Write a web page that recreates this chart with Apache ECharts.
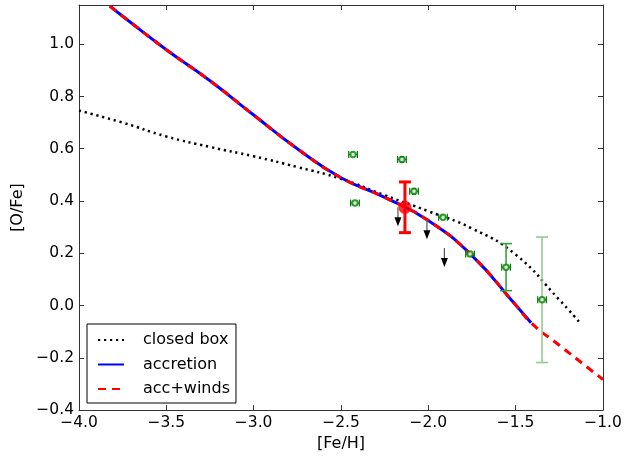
<!DOCTYPE html>
<html><head><meta charset="utf-8">
<script src="https://cdn.jsdelivr.net/npm/echarts@6/dist/echarts.min.js"></script>
<style>html,body{margin:0;padding:0;background:#fff}#c{width:637px;height:457px}</style>
</head><body><div id="c"></div>
<script>
// closed box model
const closedFe  = [-4.0, -3.75, -3.5, -3.25, -3.0, -2.75, -2.5, -2.25, -2.0, -1.75, -1.5, -1.25, -1.132];
const closedOFe = [0.746, 0.700, 0.647, 0.607, 0.571, 0.530, 0.485, 0.422, 0.361, 0.295, 0.195, 0.022, -0.066];
// accretion model
const accFe  = [-3.823, -3.75, -3.5, -3.25, -3.0, -2.75, -2.5, -2.25, -2.0, -1.75, -1.5, -1.412];
const accOFe = [1.146, 1.107, 0.979, 0.860, 0.729, 0.600, 0.489, 0.414, 0.325, 0.191, 0.002, -0.066];
// accretion + winds model
const windFe  = [-3.823, -3.75, -3.5, -3.25, -3.0, -2.75, -2.5, -2.25, -2.0, -1.75, -1.5, -1.412, -1.25, -1.0];
const windOFe = [1.146, 1.107, 0.979, 0.860, 0.729, 0.600, 0.489, 0.414, 0.325, 0.191, 0.002, -0.066, -0.152, -0.283];
// observed stars
const obsFe     = [-2.431, -2.151, -2.420, -2.082, -1.916, -1.761, -1.555, -1.349];
const obsOFe    = [0.578, 0.559, 0.392, 0.437, 0.338, 0.197, 0.147, 0.022];
const obsFeErr  = [0.025, 0.025, 0.025, 0.025, 0.025, 0.025, 0.025, 0.025];
const obsOFeErr = [0.0, 0.01, 0.0, 0.01, 0.0, 0.0, 0.09, 0.24];
// highlighted star
const refFe = [-2.134];
const refOFe = [0.376];
const refOFeErr = [0.097];
// upper limits
const limFe  = [-2.174, -2.008, -1.908];
const limOFe = [0.376, 0.326, 0.220];

const xTicks = [-4.0, -3.5, -3.0, -2.5, -2.0, -1.5, -1.0];
const yTicks = [-0.4, -0.2, 0.0, 0.2, 0.4, 0.6, 0.8, 1.0];

const FONT = 'DejaVu Sans';
const fmt = v => v.toFixed(1).replace('-', '\u2212');
const yFmt = v => yTicks.some(t => Math.abs(t - v) < 1e-6) ? fmt(v) : '';
const zip = (a, b) => a.map((x, i) => [x, b[i]]);

const chart = echarts.init(document.getElementById('c'), null, {renderer: 'canvas'});

const axisCommon = {
  type: 'value',
  axisLine: {show: true, onZero: false, lineStyle: {color: '#333', width: 1}},
  axisTick: {show: true, inside: true, length: 5, lineStyle: {color: '#333'}},
  splitLine: {show: false}
};

const GREEN = '#008000';

const option = {
  animation: false,
  backgroundColor: '#fff',
  textStyle: {fontFamily: FONT},
  grid: {left: 79, right: 34, top: 5, bottom: 46, containLabel: false},
  xAxis: [
    Object.assign({}, axisCommon, {
      min: -4, max: -1, interval: 0.5, position: 'bottom',
      axisLabel: {formatter: fmt, color: '#000', fontSize: 15.5, fontFamily: FONT, margin: 5},
      name: '[Fe/H]', nameLocation: 'middle', nameGap: 18,
      nameTextStyle: {color: '#000', fontSize: 16, fontFamily: FONT, verticalAlign: 'top'}
    }),
    Object.assign({}, axisCommon, {
      min: -4, max: -1, interval: 0.5, position: 'top', axisLabel: {show: false}
    })
  ],
  yAxis: [
    Object.assign({}, axisCommon, {
      min: -0.4, max: 1.15, interval: 0.2, position: 'left',
      axisLabel: {formatter: yFmt, color: '#000', fontSize: 15.5, fontFamily: FONT, margin: 5, showMaxLabel: false},
      name: '[O/Fe]', nameLocation: 'middle', nameGap: 38, nameRotate: 90,
      nameTextStyle: {color: '#000', fontSize: 16, fontFamily: FONT}
    }),
    Object.assign({}, axisCommon, {
      min: -0.4, max: 1.15, interval: 0.2, position: 'right', axisLabel: {show: false}
    })
  ],
  legend: {
    orient: 'vertical', left: 87, top: 324,
    padding: [8, 6, 6, 10], itemGap: 8.5,
    itemWidth: 26, itemHeight: 16,
    borderColor: '#000', borderWidth: 1, backgroundColor: '#fff',
    itemStyle: {opacity: 0, borderWidth: 0},
    textStyle: {fontSize: 16, fontFamily: FONT, color: '#000', padding: [0, 0, 0, 14]},
    data: ['closed box', 'accretion', 'acc+winds']
  },
  series: [
    {
      name: 'closed box', type: 'line', data: zip(closedFe, closedOFe),
      symbol: 'none', smooth: 0.5, z: 2,
      lineStyle: {color: '#000', width: 2.5, type: [2.2, 3.8]}, itemStyle: {color: '#000'}
    },
    {
      name: 'accretion', type: 'line', data: zip(accFe, accOFe),
      symbol: 'none', smooth: 0.5, z: 3,
      lineStyle: {color: '#0000ff', width: 3}, itemStyle: {color: '#0000ff'}
    },
    {
      name: 'acc+winds', type: 'line', data: zip(windFe, windOFe),
      symbol: 'none', smooth: 0.5, z: 4,
      lineStyle: {color: '#ff0000', width: 3, type: [8, 6]}, itemStyle: {color: '#ff0000'}
    },
    {
      name: 'obs-err', type: 'custom', z: 5,
      data: obsFe.map((x, i) => [x, obsOFe[i], obsFeErr[i], obsOFeErr[i]]),
      renderItem: function (params, api) {
        const x = api.value(0), y = api.value(1), ex = api.value(2), ey = api.value(3);
        const l = api.coord([x - ex, y]), r = api.coord([x + ex, y]);
        const children = [];
        const g = GREEN;
        children.push({type: 'line', shape: {x1: l[0], y1: l[1], x2: r[0], y2: r[1]}, style: {stroke: g, lineWidth: 1}});
        children.push({type: 'line', shape: {x1: l[0], y1: l[1] - 3.5, x2: l[0], y2: l[1] + 3.5}, style: {stroke: g, lineWidth: 1.2}});
        children.push({type: 'line', shape: {x1: r[0], y1: r[1] - 3.5, x2: r[0], y2: r[1] + 3.5}, style: {stroke: g, lineWidth: 1.2}});
        if (ey > 0) {
          const t = api.coord([x, y + ey]), b = api.coord([x, y - ey]);
          const vc = params.dataIndex === 7 ? '#8fcc8f' : (params.dataIndex === 6 ? '#3f9f3f' : g);
          const cw = ey > 0.05 ? 6 : 2;
          children.push({type: 'line', shape: {x1: t[0], y1: t[1], x2: b[0], y2: b[1]}, style: {stroke: vc, lineWidth: ey > 0.05 ? 1.6 : 1}});
          children.push({type: 'line', shape: {x1: t[0] - cw, y1: t[1], x2: t[0] + cw, y2: t[1]}, style: {stroke: vc, lineWidth: 1.6}});
          children.push({type: 'line', shape: {x1: b[0] - cw, y1: b[1], x2: b[0] + cw, y2: b[1]}, style: {stroke: vc, lineWidth: 1.6}});
        }
        return {type: 'group', children: children};
      }
    },
    {
      name: 'obs', type: 'scatter', z: 6, data: zip(obsFe, obsOFe),
      symbol: 'emptyCircle', symbolSize: 5.5,
      itemStyle: {color: GREEN, borderColor: GREEN, borderWidth: 1}
    },
    {
      name: 'ref-err', type: 'custom', z: 6,
      data: refFe.map((x, i) => [x, refOFe[i], refOFeErr[i]]),
      renderItem: function (params, api) {
        const x = api.value(0), y = api.value(1), ey = api.value(2);
        const t = api.coord([x, y + ey]), b = api.coord([x, y - ey]);
        const s = {stroke: '#ff0000', lineWidth: 3};
        return {type: 'group', children: [
          {type: 'line', shape: {x1: t[0], y1: t[1], x2: b[0], y2: b[1]}, style: s},
          {type: 'line', shape: {x1: t[0] - 6, y1: t[1], x2: t[0] + 6, y2: t[1]}, style: s},
          {type: 'line', shape: {x1: b[0] - 6, y1: b[1], x2: b[0] + 6, y2: b[1]}, style: s}
        ]};
      }
    },
    {
      name: 'ref', type: 'scatter', z: 7, data: zip(refFe, refOFe),
      symbol: 'circle', symbolSize: 13,
      itemStyle: {color: '#ff0000'}
    },
    {
      name: 'limits', type: 'custom', z: 8,
      data: zip(limFe, limOFe),
      renderItem: function (params, api) {
        const p = api.coord([api.value(0), api.value(1)]);
        const len = 19, hw = 3.5, hh = 9;
        return {type: 'group', children: [
          {type: 'line', shape: {x1: p[0], y1: p[1], x2: p[0], y2: p[1] + len - hh + 1}, style: {stroke: '#555', lineWidth: 1.2}},
          {type: 'polygon', shape: {points: [[p[0] - hw, p[1] + len - hh], [p[0] + hw, p[1] + len - hh], [p[0], p[1] + len]]}, style: {fill: '#000'}}
        ]};
      }
    }
  ]
};
chart.setOption(option);
</script>
</body></html>
